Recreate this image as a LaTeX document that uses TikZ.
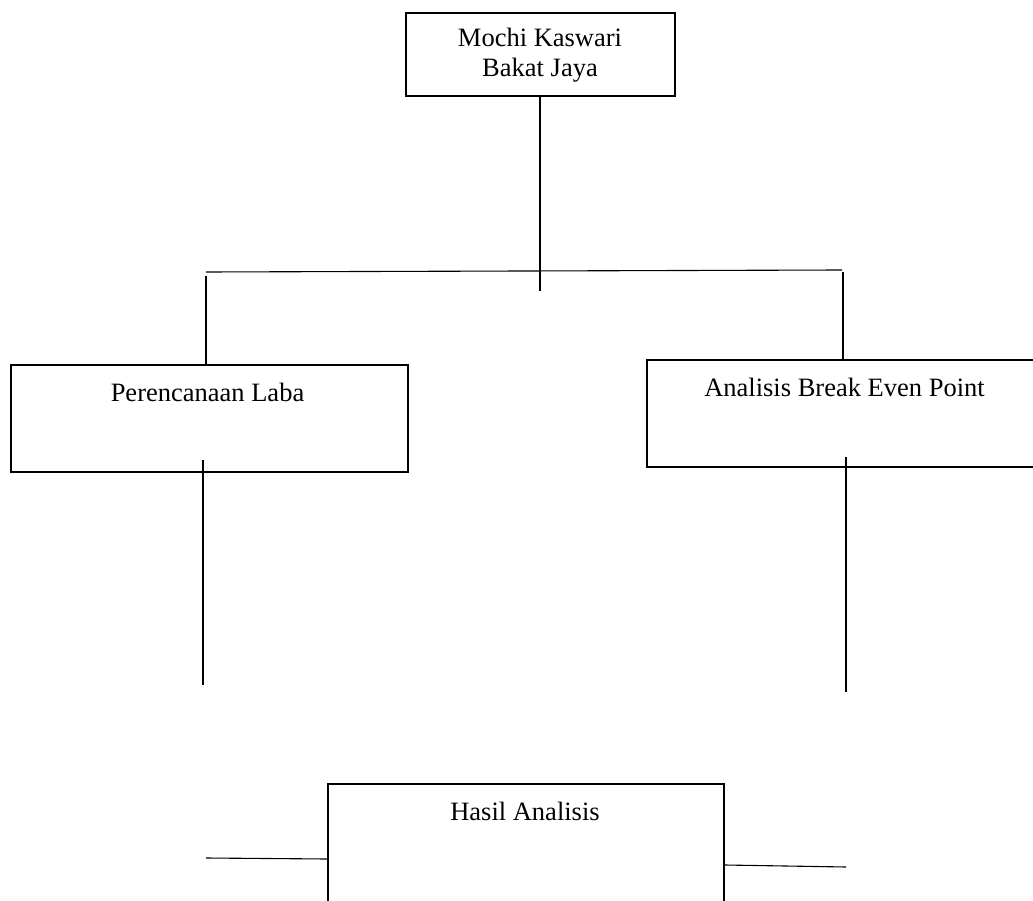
\documentclass[tikz,border=0pt]{standalone}
\usepackage{fontspec}
\setmainfont{Liberation Serif}
\begin{document}
\begin{tikzpicture}[x=1pt,y=-1pt,
  boxnode/.style={draw, line width=1.8pt, rectangle, inner sep=0pt, anchor=north west},
  lbl/.style={font=\fontsize{26.5}{30}\selectfont, align=center, inner sep=0pt, anchor=base},
  conn/.style={line width=1.1pt}]
\useasboundingbox (0,0) rectangle (1033,901);
\clip (0,0) rectangle (1033,901);
% boxes
\node[boxnode, minimum width=269pt, minimum height=83pt] (top) at (405,12) {};
\node[boxnode, minimum width=397pt, minimum height=107pt] (plan) at (10,364) {};
\node[boxnode, minimum width=400pt, minimum height=107pt] (bep) at (646,359) {};
\node[boxnode, minimum width=396pt, minimum height=130pt] (hasil) at (327,783) {};
% labels
\node[lbl] (ttop) at (540,77) {Mochi Kaswari\\Bakat Jaya};
\node[lbl] (tplan) at (207.5,401) {Perencanaan Laba};
\node[lbl] (tbep) at (844.5,396) {Analisis Break Even Point};
\node[lbl] (thasil) at (525,820) {Hasil Analisis};
% free ends
\coordinate (midend) at (540,291);
\coordinate (hl) at (206,272);
\coordinate (hr) at (842,270);
\coordinate (lvtop) at (206,276);
\coordinate (rvtop) at (843,272);
\coordinate (ldstart) at (203,460);
\coordinate (ldend) at (203,685);
\coordinate (rdstart) at (846,457);
\coordinate (rdend) at (846,692);
\coordinate (bl) at (206,858);
\coordinate (br) at (846,867);
% connectors
\draw[conn] (top.south -| midend) -- (midend);
\draw[conn] (hl) -- (hr);
\draw[conn] (lvtop) -- (lvtop |- plan.north);
\draw[conn] (rvtop) -- (rvtop |- bep.north);
\draw[conn] (ldstart) -- (ldend);
\draw[conn] (rdstart) -- (rdend);
\draw[conn] (bl) -- (hasil.west |- 0,859);
\draw[conn] (hasil.east |- 0,865) -- (br);
\end{tikzpicture}
\end{document}
